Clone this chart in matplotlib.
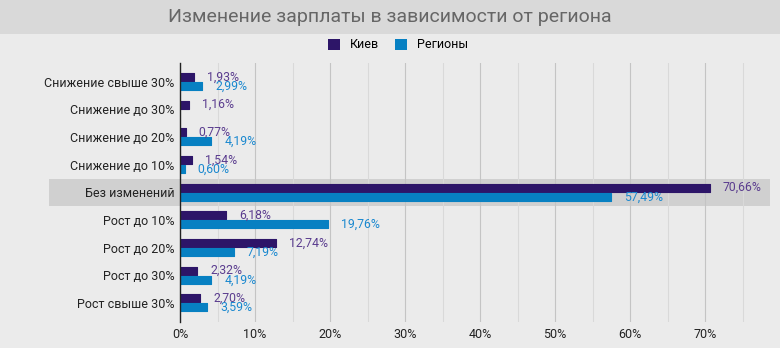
import matplotlib
matplotlib.use('Agg')
import matplotlib.pyplot as plt
import matplotlib.transforms as mtransforms
from matplotlib.patches import Rectangle, Patch
from matplotlib.ticker import MultipleLocator, FuncFormatter

plt.rcParams['font.family'] = ['Roboto', 'DejaVu Sans']

categories = ['Снижение свыше 30%', 'Снижение до 30%', 'Снижение до 20%', 'Снижение до 10%',
              'Без изменений', 'Рост до 10%', 'Рост до 20%', 'Рост до 30%', 'Рост свыше 30%']
kiev = [1.93, 1.16, 0.77, 1.54, 70.66, 6.18, 12.74, 2.32, 2.70]
regions = [2.99, 0, 4.19, 0.60, 57.49, 19.76, 7.19, 4.19, 3.59]
series_names = ['Киев', 'Регионы']
highlight_row = 4

c_kiev = '#2d1568'
c_reg = '#0780c2'
c_kiev_txt = '#5b3d8f'
c_reg_txt = '#1a88cf'

W, H = 780, 348
fig = plt.figure(figsize=(W / 100, H / 100), dpi=100, facecolor='#ebebeb')

# полоса заголовка
fig.patches.append(Rectangle((0, 1 - 34 / H), 1, 34 / H, transform=fig.transFigure,
                             facecolor='#d9d9d9', edgecolor='none', zorder=0))
fig.text(0.5, 1 - 17 / H, 'Изменение зарплаты в зависимости от региона',
         ha='center', va='center', fontsize=14, color='#666666')

ax = fig.add_axes([180 / W, (H - 322) / H, (770 - 180) / W, (322 - 63) / H])
ax.set_facecolor('none')

y = list(range(len(categories)))
bh = 0.29
off = 0.165
ax.barh([i - off for i in y], kiev, height=bh, color=c_kiev, zorder=3,
        edgecolor=c_kiev, linewidth=0.8, joinstyle='round')
reg_y = [i + off for i, v in zip(y, regions) if v > 0]
reg_v = [v for v in regions if v > 0]
ax.barh(reg_y, reg_v, height=bh, color=c_reg, zorder=3,
        edgecolor=c_reg, linewidth=0.8, joinstyle='round')

fmt = lambda v: f'{v:.2f}'.replace('.', ',') + '%'
for i, v in enumerate(kiev):
    ax.annotate(fmt(v), (v, i - off), xytext=(13, 0), textcoords='offset pixels',
                ha='left', va='center', fontsize=8.8, color=c_kiev_txt, zorder=4)
for i, v in enumerate(regions):
    if v > 0:
        ax.annotate(fmt(v), (v, i + off), xytext=(13, 0), textcoords='offset pixels',
                    ha='left', va='center', fontsize=8.8, color=c_reg_txt, zorder=4)

# выделенная строка
trans = mtransforms.blended_transform_factory(ax.transAxes, ax.transData)
band_left = (49 - 180) / (770 - 180)
ax.add_patch(Rectangle((band_left, highlight_row - 0.49), 1 - band_left, 0.98,
                       transform=trans, facecolor='#d0d0d0', edgecolor='none',
                       clip_on=False, zorder=1))

ax.set_xlim(0, 590 / 75 * 10)
ax.set_ylim(8.69, -0.67)
ax.set_yticks(y)
ax.set_yticklabels(categories)
ax.xaxis.set_major_locator(MultipleLocator(10))
ax.xaxis.set_minor_locator(MultipleLocator(5))
ax.xaxis.set_major_formatter(FuncFormatter(lambda v, p: f'{v:.0f}%'))
ax.grid(True, axis='x', which='major', color='#c4c4c4', linewidth=0.8, zorder=0.5)
ax.grid(True, axis='x', which='minor', color='#d9d9d9', linewidth=0.8, zorder=0.5)
ax.tick_params(axis='both', which='both', length=0, labelsize=9, colors='#222222')
ax.tick_params(axis='x', pad=4)
ax.tick_params(axis='y', pad=4)
for s in ['top', 'right', 'bottom']:
    ax.spines[s].set_visible(False)
ax.spines['left'].set_color('#222222')
ax.spines['left'].set_linewidth(1)
ax.spines['left'].set_zorder(5)

handles = [Patch(facecolor=c_kiev, edgecolor='none'), Patch(facecolor=c_reg, edgecolor='none')]
fig.legend(handles, series_names, loc='center', bbox_to_anchor=(0.5 + 8 / W, 1 - 45 / H), ncol=2,
           frameon=False, fontsize=9, handlelength=0.95, handleheight=0.95,
           handletextpad=0.8, columnspacing=1.3)

fig.savefig('out.png', dpi=100, facecolor=fig.get_facecolor())
